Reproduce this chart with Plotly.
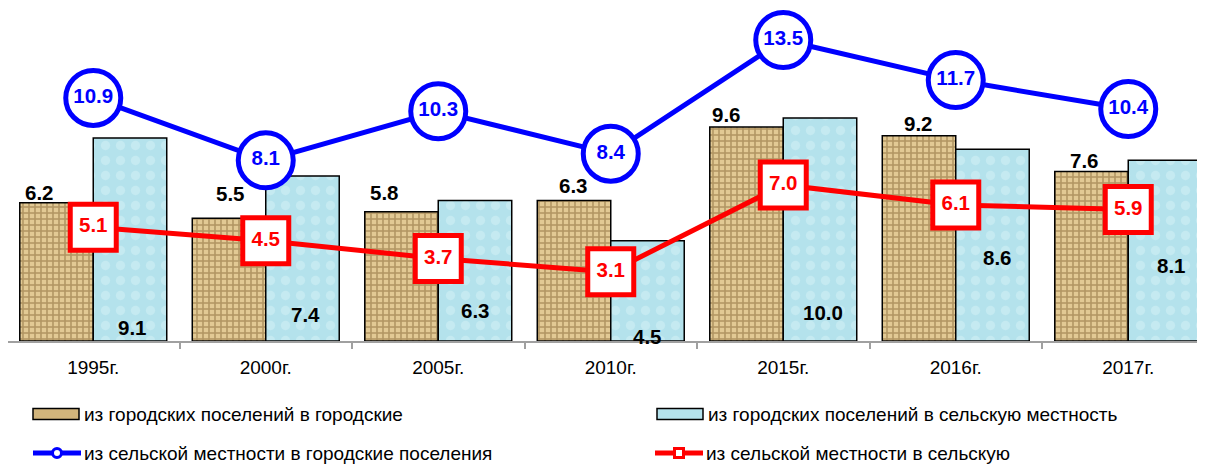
import plotly.graph_objects as go

# ---------------- data ----------------
years = ["1995г.", "2000г.", "2005г.", "2010г.", "2015г.", "2016г.", "2017г."]
urban_to_urban = [6.2, 5.5, 5.8, 6.3, 9.6, 9.2, 7.6]
urban_to_rural = [9.1, 7.4, 6.3, 4.5, 10.0, 8.6, 8.1]
rural_to_urban = [10.9, 8.1, 10.3, 8.4, 13.5, 11.7, 10.4]
rural_to_rural = [5.1, 4.5, 3.7, 3.1, 7.0, 6.1, 5.9]

names = [
    "из городских поселений в городские",
    "из городских поселений в сельскую местность",
    "из сельской местности в городские поселения",
    "из сельской местности в сельскую",
]

# ---------------- styling ----------------
# the page body has an 8px margin, so the figure is sized to fill the rest of the window
OFF = 8
W, H = 1205 - OFF, 466 - OFF
ML, MR, MT, MB = 0, 0, 10, 125
PLOT_W = W - ML - MR
PLOT_H = H - MT - MB
CAT_PX = 172.5
X0 = -0.5 + (OFF + ML - 7) / CAT_PX
YMAX = PLOT_H / 22.3
FONT = "Liberation Sans, Arial, sans-serif"
LBL = 20.5
BLUE = "#0000FF"
RED = "#FF0000"
TAN_BG, TAN_FG = "#e2c994", "#80602f"
AQUA_BG, AQUA_FG = "#b4e2ec", "#d6f1f6"

# label fine-placement (pixels)
brown_dx = [-17, 2, -17, 0, -20, 0, -7]
brown_gap = [10, 25, 19, 15, 12, 12, 11]
aqua_dx = [2, 3, 0, 0, 3, 5, 6]
aqua_raise = [14, 27, 31, 5, 29, 84, 76]
half_bar_px = 36.8

fig = go.Figure()

fig.add_trace(go.Bar(
    x=years, y=urban_to_urban, name=names[0], showlegend=False,
    marker=dict(color=TAN_BG, line=dict(color="black", width=1.5),
                pattern=dict(shape="+", fgcolor=TAN_FG, bgcolor=TAN_BG,
                             size=6, solidity=0.45, fillmode="overlay")),
))
fig.add_trace(go.Bar(
    x=years, y=urban_to_rural, name=names[1], showlegend=False,
    marker=dict(color=AQUA_BG, line=dict(color="black", width=1.5),
                pattern=dict(shape=".", fgcolor=AQUA_FG, bgcolor=AQUA_BG,
                             size=15, solidity=0.3, fillmode="overlay")),
))
fig.add_trace(go.Scatter(
    x=years, y=rural_to_urban, name=names[2], showlegend=False,
    mode="lines+markers+text", cliponaxis=False,
    line=dict(color=BLUE, width=5),
    marker=dict(symbol="circle", size=55, color="white", line=dict(color=BLUE, width=5)),
    text=[f"{v:.1f}" for v in rural_to_urban], textposition="middle center",
    textfont=dict(family=FONT, size=LBL, color=BLUE, weight="bold"),
))
fig.add_trace(go.Scatter(
    x=years, y=rural_to_rural, name=names[3], showlegend=False,
    mode="lines+markers+text", cliponaxis=False,
    line=dict(color=RED, width=5),
    marker=dict(symbol="square", size=46, color="white", line=dict(color=RED, width=5)),
    text=[f"{v:.1f}" for v in rural_to_rural], textposition="middle center",
    textfont=dict(family=FONT, size=LBL, color=RED, weight="bold"),
))

annotations = []
for i, (yr, v) in enumerate(zip(years, urban_to_urban)):
    annotations.append(dict(
        x=yr, y=v, xref="x", yref="y", text=f"<b>{v:.1f}</b>", showarrow=False,
        xanchor="center", yanchor="middle",
        xshift=-half_bar_px + brown_dx[i], yshift=brown_gap[i],
        font=dict(family=FONT, size=LBL, color="black"),
    ))
for i, (yr, v) in enumerate(zip(years, urban_to_rural)):
    annotations.append(dict(
        x=yr, y=0, xref="x", yref="y", text=f"<b>{v:.1f}</b>", showarrow=False,
        xanchor="center", yanchor="middle",
        xshift=half_bar_px + aqua_dx[i], yshift=aqua_raise[i],
        font=dict(family=FONT, size=LBL, color="black"),
    ))

# ---------------- legend (drawn manually) ----------------
# positions given in window pixels
def PX(px):
    return (px - OFF - ML) / PLOT_W

def PY(py):
    return (H - MB - (py - OFF)) / PLOT_H

shapes = []
leg = [
    (33, 414, names[0], "bar", "#d2b57c"),
    (657, 414, names[1], "bar", AQUA_BG),
    (33, 453, names[2], "circle", BLUE),
    (655, 453, names[3], "square", RED),
]
for x0, yc, label, kind, col in leg:
    if kind == "bar":
        shapes.append(dict(type="rect", xref="paper", yref="paper",
                           x0=PX(x0), x1=PX(x0 + 46), y0=PY(yc - 5.5), y1=PY(yc + 5.5),
                           fillcolor=col, line=dict(color="black", width=1.5)))
    else:
        shapes.append(dict(type="line", xref="paper", yref="paper",
                           x0=PX(x0), x1=PX(x0 + 48), y0=PY(yc), y1=PY(yc),
                           line=dict(color=col, width=5)))
        cx = x0 + 24
        shapes.append(dict(type="circle" if kind == "circle" else "rect",
                           xref="paper", yref="paper",
                           x0=PX(cx - 4.5), x1=PX(cx + 4.5), y0=PY(yc + 4.5), y1=PY(yc - 4.5),
                           fillcolor="white", line=dict(color=col, width=3)))
    annotations.append(dict(
        x=PX(x0 + 49), y=PY(yc), xref="paper", yref="paper", text=label, showarrow=False,
        xanchor="left", yanchor="middle",
        font=dict(family=FONT, size=19, color="black"),
    ))

fig.update_layout(
    width=W, height=H,
    margin=dict(l=ML, r=MR, t=MT, b=MB),
    paper_bgcolor="white", plot_bgcolor="white",
    barmode="group", bargap=0.148, bargroupgap=0,
    showlegend=False,
    annotations=annotations, shapes=shapes,
    xaxis=dict(
        type="category", range=[X0, X0 + PLOT_W / CAT_PX],
        showline=True, linecolor="#a0a0a0", linewidth=1.5,
        ticks="outside", tickson="boundaries", ticklen=6, tickcolor="#a0a0a0",
        tickwidth=1.5, ticklabelstandoff=8,
        tickfont=dict(family=FONT, size=19, color="black"),
        showgrid=False, zeroline=False,
    ),
    yaxis=dict(range=[0, YMAX], visible=False, showgrid=False, zeroline=False),
)

fig.write_html("out.html")
